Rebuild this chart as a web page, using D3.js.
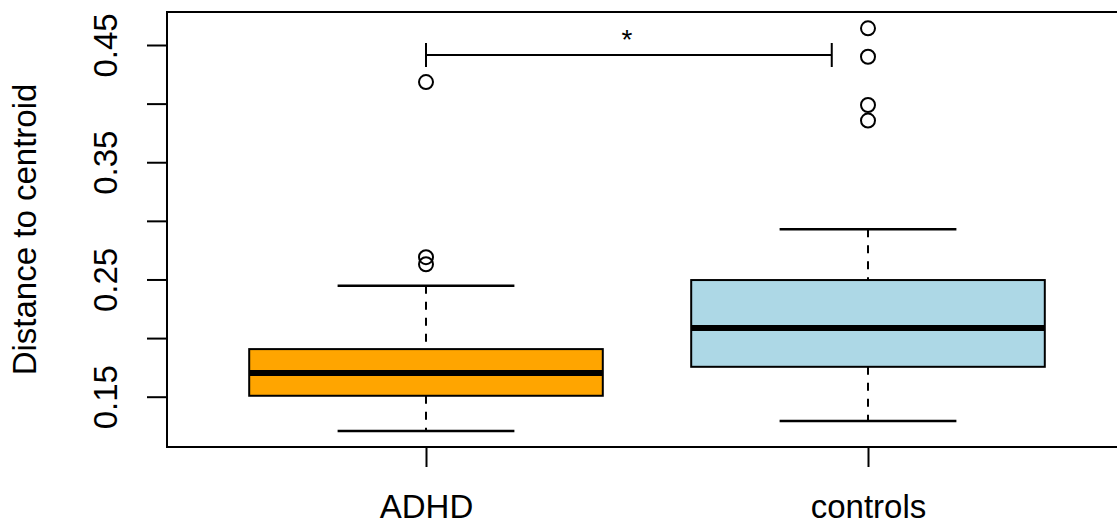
<!DOCTYPE html>
<html lang="en">
<head>
<meta charset="UTF-8">
<title>Distance to centroid boxplot</title>
<style>
    body { margin: 0; background: #fff; }
    text { font-family: "Liberation Sans", Arial, sans-serif; fill: #000; }
</style>
</head>
<body>
<div id="chart"></div>
<script src="https://cdn.jsdelivr.net/npm/d3@7"></script>
<script>

    var width = 1117,
        height = 522;

    // groups and their five-number summaries
    var groups   = ["ADHD", "controls"];
    var colors   = ["#FFA500", "#ADD8E6"];
    var lowWhisk = [0.1207, 0.1292];
    var q1       = [0.1508, 0.1755];
    var medians  = [0.1702, 0.2085];
    var q3       = [0.1906, 0.2495];
    var upWhisk  = [0.2446, 0.2928];
    var outliers = [
        [0.2630, 0.2690, 0.4184],
        [0.3855, 0.3988, 0.4400, 0.4642]
    ];

    var yTicks = [0.15, 0.20, 0.25, 0.30, 0.35, 0.40, 0.45];
    var yTickLabels = ["0.15", "", "0.25", "", "0.35", "", "0.45"];

    // significance bracket
    var bracketX = [1, 1.918];
    var bracketY = 0.4415;
    var bracketLabel = "*";

    var svg = d3.select("#chart").append("svg")
        .attr("width", width)
        .attr("height", height);

    var plotTop = 12, plotBottom = 447, plotLeft = 167, plotRight = 1126;
    var fontSize = "33px";

    var y = d3.scaleLinear()
        .domain([0.15, 0.45])
        .range([396.7, 45]);

    var x = d3.scaleLinear()
        .domain([1, 2])
        .range([426, 868]);

    var boxHalf = (x(2) - x(1)) * 0.4,
        stapleHalf = boxHalf / 2;

    // y axis
    var yAxis = svg.append("g")
        .attr("transform", "translate(" + plotLeft + ",0)")
        .call(d3.axisLeft(y)
            .tickValues(yTicks)
            .tickSize(20)
            .tickPadding(0)
            .tickFormat(function (d, i) { return yTickLabels[i]; }));
    yAxis.select(".domain").remove();
    yAxis.selectAll("line").attr("stroke", "#000").attr("stroke-width", 2);
    yAxis.selectAll("text")
        .attr("font-size", fontSize)
        .attr("font-family", "Liberation Sans, Arial, sans-serif")
        .attr("text-anchor", "middle")
        .attr("dy", null)
        .attr("x", null)
        .attr("transform", "translate(-50,0) rotate(-90)");

    // x axis
    var xAxis = svg.append("g")
        .attr("transform", "translate(0," + plotBottom + ")")
        .call(d3.axisBottom(x)
            .tickValues([1, 2])
            .tickSize(20)
            .tickPadding(0)
            .tickFormat(function (d, i) { return groups[i]; }));
    xAxis.select(".domain").remove();
    xAxis.selectAll("line").attr("stroke", "#000").attr("stroke-width", 2);
    xAxis.selectAll("text")
        .attr("font-size", fontSize)
        .attr("font-family", "Liberation Sans, Arial, sans-serif")
        .attr("dy", null)
        .attr("y", 71);

    // plot frame (right side runs off the page)
    svg.append("path")
        .attr("d", "M" + plotRight + "," + plotTop + "H" + plotLeft + "V" + plotBottom + "H" + plotRight)
        .attr("fill", "none")
        .attr("stroke", "#000")
        .attr("stroke-width", 2);

    // y axis title
    svg.append("text")
        .attr("transform", "translate(36," + ((plotTop + plotBottom) / 2) + ") rotate(-90)")
        .attr("text-anchor", "middle")
        .attr("font-size", fontSize)
        .text("Distance to centroid");

    var boxes = svg.append("g");

    groups.forEach(function (g, i) {
        var cx = x(i + 1);

        // dashed whiskers
        boxes.append("line")
            .attr("x1", cx).attr("x2", cx)
            .attr("y1", y(upWhisk[i])).attr("y2", y(q3[i]))
            .attr("stroke", "#000").attr("stroke-width", 2)
            .attr("stroke-dasharray", "8,8");
        boxes.append("line")
            .attr("x1", cx).attr("x2", cx)
            .attr("y1", y(q1[i])).attr("y2", y(lowWhisk[i]))
            .attr("stroke", "#000").attr("stroke-width", 2)
            .attr("stroke-dasharray", "8,8");

        // staples
        [lowWhisk[i], upWhisk[i]].forEach(function (v) {
            boxes.append("line")
                .attr("x1", cx - stapleHalf).attr("x2", cx + stapleHalf)
                .attr("y1", y(v)).attr("y2", y(v))
                .attr("stroke", "#000").attr("stroke-width", 2.5);
        });

        // box
        boxes.append("rect")
            .attr("x", cx - boxHalf)
            .attr("y", y(q3[i]))
            .attr("width", boxHalf * 2)
            .attr("height", y(q1[i]) - y(q3[i]))
            .attr("fill", colors[i])
            .attr("stroke", "#000")
            .attr("stroke-width", 2);

        // median
        boxes.append("line")
            .attr("x1", cx - boxHalf).attr("x2", cx + boxHalf)
            .attr("y1", y(medians[i])).attr("y2", y(medians[i]))
            .attr("stroke", "#000").attr("stroke-width", 6);

        // outliers
        boxes.selectAll(null)
            .data(outliers[i])
            .enter().append("circle")
            .attr("cx", cx)
            .attr("cy", function (d) { return y(d); })
            .attr("r", 7)
            .attr("fill", "none")
            .attr("stroke", "#000")
            .attr("stroke-width", 2);
    });

    // significance bracket
    var bY = y(bracketY);
    svg.append("path")
        .attr("d", "M" + x(bracketX[0]) + "," + (bY - 12) + "V" + (bY + 12) +
                   "M" + x(bracketX[0]) + "," + bY + "H" + x(bracketX[1]) +
                   "M" + x(bracketX[1]) + "," + (bY - 12) + "V" + (bY + 12))
        .attr("fill", "none")
        .attr("stroke", "#000")
        .attr("stroke-width", 2);

    svg.append("text")
        .attr("x", (x(bracketX[0]) + x(bracketX[1])) / 2 - 2)
        .attr("y", bY - 6)
        .attr("text-anchor", "middle")
        .attr("font-size", "28px")
        .text(bracketLabel);

</script>
</body>
</html>
